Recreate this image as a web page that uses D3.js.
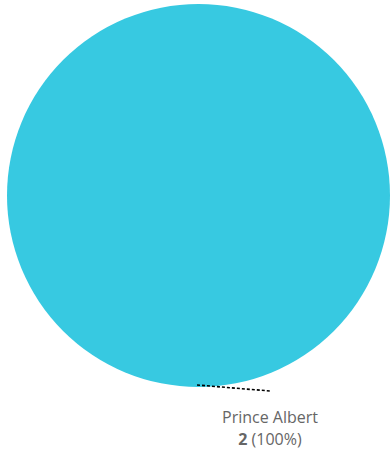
<!DOCTYPE html>
<html><head><meta charset="utf-8">
<script src="https://cdn.jsdelivr.net/npm/d3@7"></script>
<style>html,body{margin:0;padding:0;background:#fff;}</style>
</head><body>
<svg id="c" width="391" height="452"></svg>
<script>
const categories = ["Prince Albert"];
const values = [2];
const colors = ["#37c9e1"];

const svg = d3.select("#c");
const cx = 198.5, cy = 195.5, r = 191.5;
const g = svg.append("g").attr("transform", `translate(${cx},${cy})`);
const total = d3.sum(values);
const pie = d3.pie().sort(null).startAngle(Math.PI).endAngle(3 * Math.PI)(values);
const arc = d3.arc().innerRadius(0).outerRadius(r);
g.selectAll("path").data(pie).join("path")
  .attr("d", arc).attr("fill", (d, i) => colors[i]);

// leader line
g.append("line").attr("x1", -1.5).attr("y1", r - 2).attr("x2", 71.5).attr("y2", r + 4)
  .attr("stroke", "#000").attr("stroke-width", 1.6).attr("stroke-dasharray", "3,2");

const ff = "'Open Sans','Noto Sans',sans-serif";
const tx = 270;
svg.append("text").attr("x", tx).attr("y", 423).attr("text-anchor", "middle")
  .attr("font-family", ff).attr("font-size", 16).attr("fill", "#666").text(categories[0]);
const t2 = svg.append("text").attr("x", tx).attr("y", 445).attr("text-anchor", "middle")
  .attr("font-family", ff).attr("font-size", 16).attr("fill", "#666");
t2.append("tspan").attr("font-weight", "bold").text(values[0]);
t2.append("tspan").text(" (" + d3.format(".0%")(values[0] / total) + ")");
</script>
</body></html>
